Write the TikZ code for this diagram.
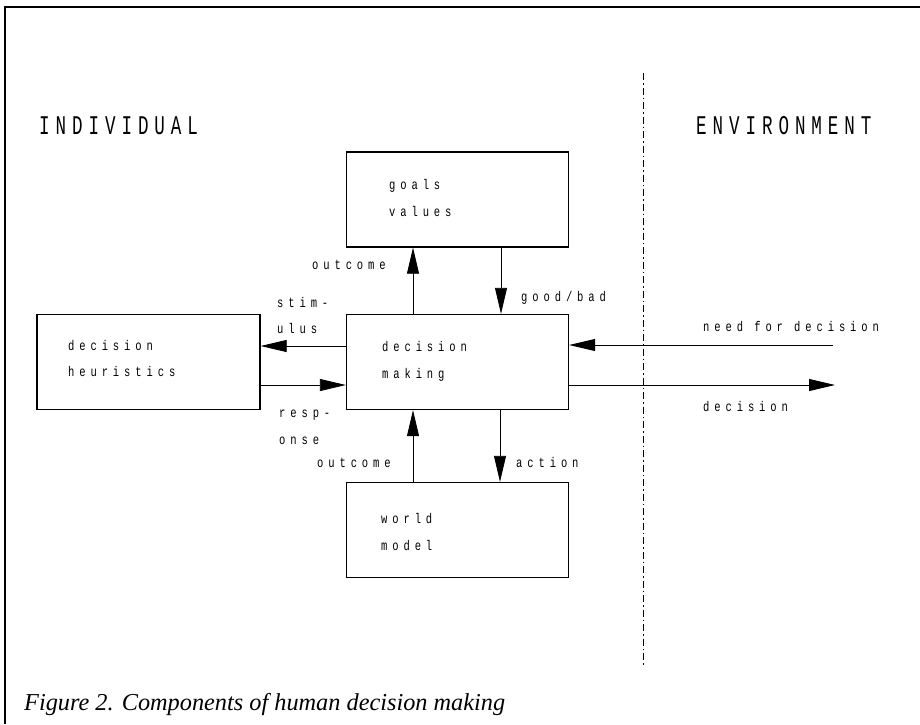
\documentclass[tikz,border=0pt]{standalone}
\usepackage{fontspec}
\setmainfont{Liberation Serif}
\newfontfamily\capfont[FakeStretch=0.65,LetterSpace=22]{Liberation Mono}
\newfontfamily\lcfont[FakeStretch=0.75,LetterSpace=35]{Liberation Mono}
\usetikzlibrary{arrows.meta}
\begin{document}
\begin{tikzpicture}[x=1pt,y=-1pt,
  box/.style={draw,line width=1.3pt,minimum width=222pt,minimum height=95pt,inner sep=0pt},
  lc/.style={anchor=base west,inner sep=0pt,font=\lcfont\fontsize{14}{16}\selectfont},
  caps/.style={anchor=base west,inner sep=0pt,font=\capfont\fontsize{27}{30}\selectfont},
  arr/.style={line width=0.8pt,-{Triangle[length=26pt,width=12pt]}},
  frame/.style={line width=1.6pt},
  divider/.style={line width=0.7pt,dash pattern=on 7pt off 3pt on 1.5pt off 3pt}]
\useasboundingbox (0,0) rectangle (920,724);
% frame
\coordinate (ftl) at (5,7);
\coordinate (ftr) at (920,7);
\coordinate (fbl) at (5,724);
\draw[frame] (fbl) -- (ftl) -- (ftr);
% divider
\coordinate (dtop) at (643,73);
\coordinate (dbot) at (643,667);
\draw[divider] (dtop) -- (dbot);
% headings
\node[caps] (indiv) at (39,134) {INDIVIDUAL};
\node[caps] (env) at (696,134) {ENVIRONMENT};
% boxes
\node[box] (goals) at (457.5,199.5) {};
\node[box] (dec) at (457.5,362) {};
\node[box,minimum width=223pt] (heur) at (148.5,362) {};
\node[box] (world) at (457.5,530) {};
% box texts
\node[lc] (t1) at (389,189) {goals};
\node[lc] (t2) at (389,216) {values};
\node[lc] (t3) at (382,351) {decision};
\node[lc] (t4) at (382,378) {making};
\node[lc] (t5) at (68,350) {decision};
\node[lc] (t6) at (68,376) {heuristics};
\node[lc] (t7) at (381,523) {world};
\node[lc] (t8) at (381,550) {model};
% connectors
\draw[arr] ([yshift=16pt]dec.west) -- ([yshift=16pt]heur.east);
\draw[arr] ([yshift=-23pt]heur.east) -- ([yshift=-23pt]dec.west);
\draw[arr] ([xshift=-44.5pt]dec.north) -- ([xshift=-44.5pt]goals.south);
\draw[arr] ([xshift=43.5pt]goals.south) -- ([xshift=43.5pt]dec.north);
\draw[arr] ([xshift=-44.5pt]world.north) -- ([xshift=-44.5pt]dec.south);
\draw[arr] ([xshift=42.5pt]dec.south) -- ([xshift=42.5pt]world.north);
\coordinate (nfd) at (833,345);
\coordinate (dout) at (835,385);
\draw[arr] (nfd) -- ([yshift=17pt]dec.east);
\draw[arr] ([yshift=-23pt]dec.east) -- (dout);
% connector labels
\node[lc] (l1) at (312,269) {outcome};
\node[lc] (l2) at (277,307) {stim-};
\node[lc] (l3) at (277,333) {ulus};
\node[lc] (l4) at (521,301) {good/bad};
\node[lc] (l5) at (279,417) {resp-};
\node[lc] (l6) at (279,444) {onse};
\node[lc] (l7) at (317,467) {outcome};
\node[lc] (l8) at (516,467) {action};
\node[lc] (l9) at (703,331) {need for decision};
\node[lc] (l10) at (703,411) {decision};
% caption
\node[anchor=base west,inner sep=0pt,font=\fontsize{24.3}{29}\selectfont\itshape] (cap) at (24,710) {Figure 2. Components of human decision making};
\end{tikzpicture}
\end{document}
